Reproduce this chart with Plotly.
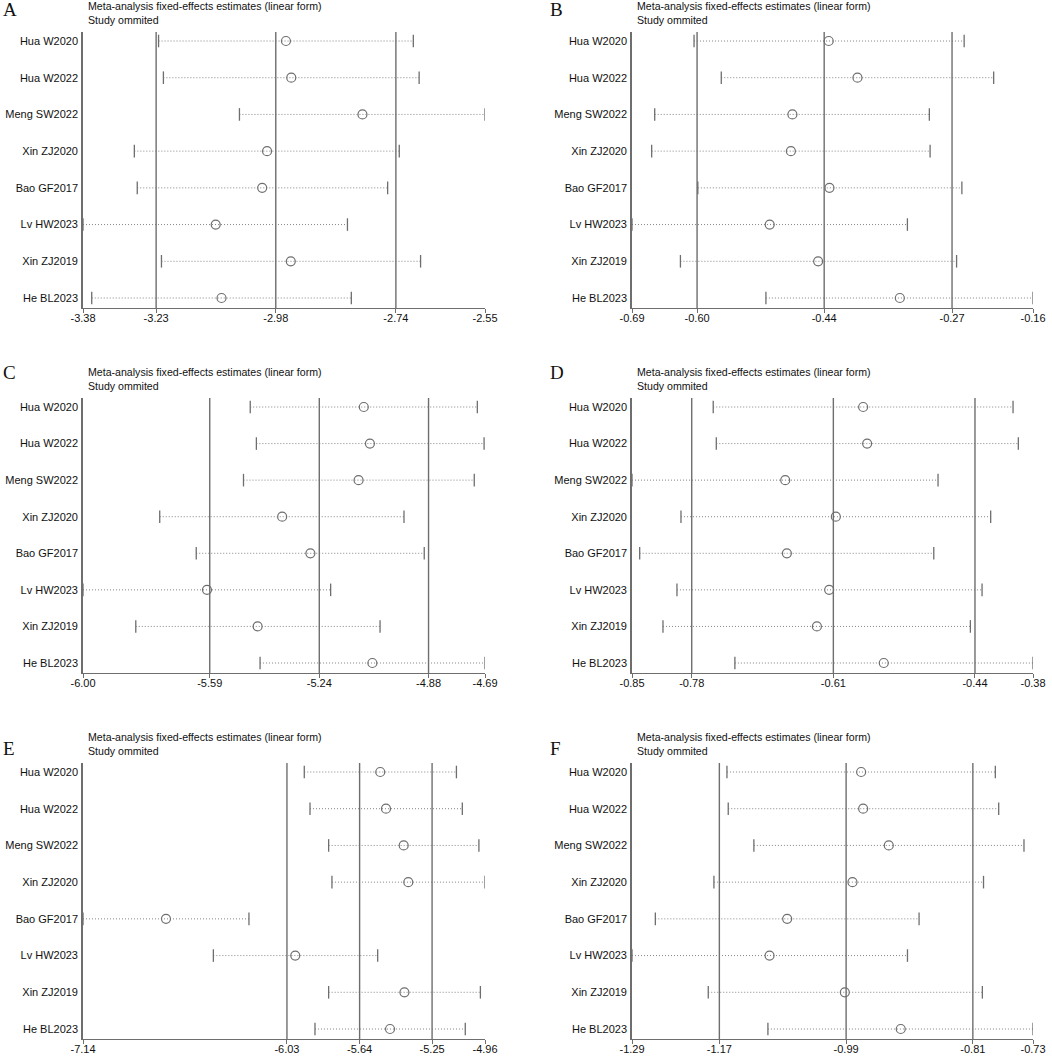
import plotly.graph_objects as go

studies = ['Hua W2020', 'Hua W2022', 'Meng SW2022', 'Xin ZJ2020',
           'Bao GF2017', 'Lv HW2023', 'Xin ZJ2019', 'He BL2023']

# panel A
est_a = [-2.961, -2.950, -2.803, -3.000, -3.010, -3.106, -2.951, -3.094]
lo_a = [-3.224, -3.214, -3.057, -3.274, -3.268, -3.380, -3.218, -3.362]
hi_a = [-2.698, -2.686, -2.550, -2.727, -2.751, -2.834, -2.683, -2.826]
ticks_a = [-3.38, -3.229, -2.982, -2.734, -2.55]
labels_a = ['-3.38', '-3.23', '-2.98', '-2.74', '-2.55']

# panel B
est_b = [-0.430, -0.392, -0.478, -0.480, -0.429, -0.508, -0.444, -0.336]
lo_b = [-0.608, -0.572, -0.660, -0.664, -0.603, -0.690, -0.626, -0.513]
hi_b = [-0.251, -0.212, -0.297, -0.296, -0.254, -0.326, -0.261, -0.160]
ticks_b = [-0.69, -0.604, -0.436, -0.267, -0.16]
labels_b = ['-0.69', '-0.60', '-0.44', '-0.27', '-0.16']

# panel C
est_c = [-5.085, -5.065, -5.102, -5.351, -5.259, -5.596, -5.431, -5.057]
lo_c = [-5.455, -5.435, -5.477, -5.750, -5.631, -6.000, -5.828, -5.423]
hi_c = [-4.715, -4.693, -4.725, -4.954, -4.888, -5.193, -5.032, -4.690]
ticks_c = [-6.00, -5.587, -5.230, -4.874, -4.69]
labels_c = ['-6.00', '-5.59', '-5.24', '-4.88', '-4.69']

# panel D
est_d = [-0.5791, -0.5744, -0.6704, -0.6111, -0.6685, -0.6189, -0.6333, -0.5549]
lo_d = [-0.7548, -0.7512, -0.8500, -0.7926, -0.8410, -0.7973, -0.8137, -0.7294]
hi_d = [-0.4034, -0.3972, -0.4913, -0.4296, -0.4963, -0.4397, -0.4534, -0.3800]
ticks_d = [-0.85, -0.780, -0.614, -0.448, -0.38]
labels_d = ['-0.85', '-0.78', '-0.61', '-0.44', '-0.38']

# panel E
est_e = [-5.528, -5.497, -5.401, -5.376, -6.690, -5.989, -5.397, -5.475]
lo_e = [-5.940, -5.909, -5.808, -5.790, -7.140, -6.433, -5.808, -5.882]
hi_e = [-5.115, -5.083, -4.993, -4.960, -6.240, -5.542, -4.985, -5.067]
ticks_e = [-7.14, -6.034, -5.640, -5.247, -4.96]
labels_e = ['-7.14', '-6.03', '-5.64', '-5.25', '-4.96']

# panel F
est_f = [-0.9700, -0.9672, -0.9314, -0.9821, -1.0733, -1.0979, -0.9928, -0.9147]
lo_f = [-1.1574, -1.1556, -1.1198, -1.1756, -1.2574, -1.2900, -1.1835, -1.1002]
hi_f = [-0.7826, -0.7779, -0.7426, -0.7991, -0.8891, -0.9053, -0.8007, -0.7300]
ticks_f = [-1.29, -1.168, -0.991, -0.814, -0.73]
labels_f = ['-1.29', '-1.17', '-0.99', '-0.81', '-0.73']

W, H = 1052, 1057
LINE_GRAY = '#6e6e6e'
DOT_GRAY = '#858585'
TXT = '#111111'
FONT = 'Liberation Sans, Arial, sans-serif'

panels = [
    ('A', est_a, lo_a, hi_a, ticks_a, labels_a, (83, 485), (32, 308)),
    ('B', est_b, lo_b, hi_b, ticks_b, labels_b, (632, 1033), (32, 308)),
    ('C', est_c, lo_c, hi_c, ticks_c, labels_c, (83, 485), (398, 673)),
    ('D', est_d, lo_d, hi_d, ticks_d, labels_d, (632, 1033), (398, 673)),
    ('E', est_e, lo_e, hi_e, ticks_e, labels_e, (83, 485), (763, 1039)),
    ('F', est_f, lo_f, hi_f, ticks_f, labels_f, (632, 1033), (763, 1039)),
]

rows = list(range(len(studies)))
fig = go.Figure()
layout = {}
shapes = []
annotations = []

for i, (letter, est, lo, hi, ticks, labels, xpx, ypx) in enumerate(panels):
    n = '' if i == 0 else str(i + 1)
    xa, ya = 'x' + n, 'y' + n

    # dotted CI segments
    seg_x, seg_y = [], []
    for r in rows:
        seg_x += [lo[r], hi[r], None]
        seg_y += [r, r, None]
    fig.add_trace(go.Scatter(x=seg_x, y=seg_y, mode='lines', xaxis=xa, yaxis=ya,
                             line=dict(color=DOT_GRAY, width=1, dash='1px,2px'),
                             showlegend=False, hoverinfo='skip'))
    # end caps
    fig.add_trace(go.Scatter(x=lo + hi, y=rows + rows, mode='markers', xaxis=xa, yaxis=ya,
                             marker=dict(symbol='line-ns', size=9,
                                         line=dict(color=LINE_GRAY, width=1.3)),
                             showlegend=False, hoverinfo='skip'))
    # estimates
    fig.add_trace(go.Scatter(x=est, y=rows, mode='markers', xaxis=xa, yaxis=ya,
                             marker=dict(symbol='circle-open', size=9,
                                         color=LINE_GRAY, line=dict(width=1.2)),
                             showlegend=False))

    # reference lines at the three inner ticks
    for v in ticks[1:4]:
        shapes.append(dict(type='line', xref=xa, yref=ya + ' domain', x0=v, x1=v,
                           y0=0, y1=1, line=dict(color=LINE_GRAY, width=1.4)))

    step = (ypx[1] - ypx[0] - 19) / 7.0
    y_top = -9 / step
    y_bot = 7 + 10 / step
    layout['xaxis' + n] = dict(domain=[xpx[0] / W, xpx[1] / W], anchor=ya,
                               range=[ticks[0], ticks[-1]], tickvals=ticks, ticktext=labels,
                               showgrid=False, zeroline=False, showline=True,
                               linecolor=LINE_GRAY, linewidth=1.4, ticks='outside',
                               ticklen=4, tickcolor=LINE_GRAY, tickwidth=1.2,
                               ticklabelstandoff=-4, automargin=False,
                               tickfont=dict(family=FONT, size=11, color=TXT))
    layout['yaxis' + n] = dict(domain=[1 - ypx[1] / H, 1 - ypx[0] / H], anchor=xa,
                               range=[y_bot, y_top], tickvals=rows, ticktext=studies,
                               showgrid=False, zeroline=False, showline=True,
                               linecolor=LINE_GRAY, linewidth=1.6, ticks='',
                               ticklabelstandoff=1, automargin=False,
                               tickfont=dict(family=FONT, size=11, color=TXT))

    # panel titles
    annotations.append(dict(text='Meta-analysis fixed-effects estimates (linear form)',
                            x=(xpx[0] + 3) / W, y=1 - (ypx[0] - 26) / H,
                            xref='paper', yref='paper', xanchor='left', yanchor='middle',
                            showarrow=False, font=dict(family=FONT, size=10.6, color=TXT)))
    annotations.append(dict(text='Study ommited',
                            x=(xpx[0] + 3) / W, y=1 - (ypx[0] - 12) / H,
                            xref='paper', yref='paper', xanchor='left', yanchor='middle',
                            showarrow=False, font=dict(family=FONT, size=10.6, color=TXT)))

letter_pos = {'A': (1, 10), 'B': (548, 10), 'C': (1, 372), 'D': (548, 372),
              'E': (1, 748), 'F': (548, 748)}
for letter, (lx, ly) in letter_pos.items():
    annotations.append(dict(text=letter, x=lx / W, y=1 - ly / H, xref='paper', yref='paper',
                            xanchor='left', yanchor='middle', showarrow=False,
                            font=dict(family='Liberation Serif, Times New Roman, serif',
                                      size=19, color=TXT)))

fig.update_layout(width=W, height=H, margin=dict(l=0, r=0, t=0, b=0, pad=0),
                  paper_bgcolor='white', plot_bgcolor='white',
                  shapes=shapes, annotations=annotations, **layout)

fig.write_html("out.html", config={'displayModeBar': False},
               post_script="document.body.style.margin='0';")
